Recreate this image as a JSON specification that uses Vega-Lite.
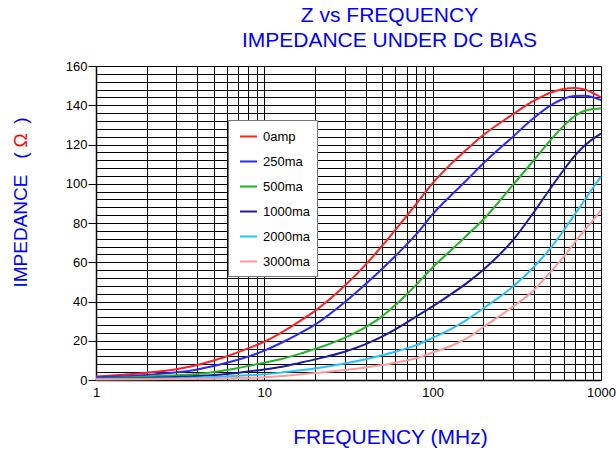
{
  "$schema": "https://vega.github.io/schema/vega-lite/v6.json",
  "width": 505,
  "height": 314,
  "autosize": {"type": "none"},
  "padding": {"left": 96, "top": 66, "right": 15, "bottom": 70},
  "background": "white",
  "config": {
    "font": "Liberation Sans",
    "view": {"stroke": null},
    "axis": {"labelFont": "Liberation Sans", "titleFont": "Liberation Sans", "labelColor": "#000", "titleFontWeight": "normal"}
  },
  "title": {
    "text": ["Z vs FREQUENCY", "IMPEDANCE UNDER DC BIAS"],
    "color": "#0000ff",
    "font": "Liberation Sans",
    "fontSize": 21,
    "fontWeight": "normal",
    "lineHeight": 25,
    "anchor": "middle",
    "baseline": "alphabetic",
    "dx": 41,
    "dy": 16,
    "offset": 8
  },
  "data": {
    "values": [
      {"f": 1, "z": 1.8, "s": "0amp"}, {"f": 2, "z": 3.7, "s": "0amp"}, {"f": 3, "z": 5.5, "s": "0amp"}, {"f": 4, "z": 7.6, "s": "0amp"}, {"f": 5, "z": 9.9, "s": "0amp"}, {"f": 6, "z": 12.1, "s": "0amp"}, {"f": 7, "z": 14.2, "s": "0amp"}, {"f": 8, "z": 16.1, "s": "0amp"}, {"f": 10, "z": 19.5, "s": "0amp"}, {"f": 13, "z": 24.8, "s": "0amp"}, {"f": 16, "z": 29.6, "s": "0amp"}, {"f": 20, "z": 35.2, "s": "0amp"}, {"f": 30, "z": 48, "s": "0amp"}, {"f": 40, "z": 58.8, "s": "0amp"}, {"f": 50, "z": 68.3, "s": "0amp"}, {"f": 60, "z": 76.5, "s": "0amp"}, {"f": 70, "z": 83.5, "s": "0amp"}, {"f": 80, "z": 89.8, "s": "0amp"}, {"f": 100, "z": 100.3, "s": "0amp"}, {"f": 130, "z": 110.5, "s": "0amp"}, {"f": 160, "z": 117.6, "s": "0amp"}, {"f": 200, "z": 124.8, "s": "0amp"}, {"f": 300, "z": 135.4, "s": "0amp"}, {"f": 400, "z": 142.3, "s": "0amp"}, {"f": 500, "z": 146.4, "s": "0amp"}, {"f": 600, "z": 148.3, "s": "0amp"}, {"f": 700, "z": 148.8, "s": "0amp"}, {"f": 800, "z": 148, "s": "0amp"}, {"f": 900, "z": 146.2, "s": "0amp"}, {"f": 1000, "z": 144, "s": "0amp"},
      {"f": 1, "z": 1.3, "s": "250ma"}, {"f": 2, "z": 2.5, "s": "250ma"}, {"f": 3, "z": 3.9, "s": "250ma"}, {"f": 4, "z": 5.4, "s": "250ma"}, {"f": 5, "z": 7.1, "s": "250ma"}, {"f": 6, "z": 8.8, "s": "250ma"}, {"f": 7, "z": 10.4, "s": "250ma"}, {"f": 8, "z": 11.9, "s": "250ma"}, {"f": 10, "z": 15, "s": "250ma"}, {"f": 13, "z": 19.5, "s": "250ma"}, {"f": 16, "z": 23.5, "s": "250ma"}, {"f": 20, "z": 28.2, "s": "250ma"}, {"f": 30, "z": 39.6, "s": "250ma"}, {"f": 40, "z": 48.9, "s": "250ma"}, {"f": 50, "z": 56.6, "s": "250ma"}, {"f": 60, "z": 63.2, "s": "250ma"}, {"f": 70, "z": 69, "s": "250ma"}, {"f": 80, "z": 74.3, "s": "250ma"}, {"f": 100, "z": 84.5, "s": "250ma"}, {"f": 130, "z": 94.5, "s": "250ma"}, {"f": 160, "z": 102, "s": "250ma"}, {"f": 200, "z": 110.4, "s": "250ma"}, {"f": 300, "z": 124, "s": "250ma"}, {"f": 400, "z": 133.6, "s": "250ma"}, {"f": 500, "z": 139.8, "s": "250ma"}, {"f": 600, "z": 143.3, "s": "250ma"}, {"f": 700, "z": 144.7, "s": "250ma"}, {"f": 800, "z": 144.8, "s": "250ma"}, {"f": 900, "z": 144, "s": "250ma"}, {"f": 1000, "z": 142.7, "s": "250ma"},
      {"f": 1, "z": 0.8, "s": "500ma"}, {"f": 2, "z": 1.7, "s": "500ma"}, {"f": 3, "z": 2.4, "s": "500ma"}, {"f": 4, "z": 3.1, "s": "500ma"}, {"f": 5, "z": 4.1, "s": "500ma"}, {"f": 6, "z": 5.1, "s": "500ma"}, {"f": 7, "z": 6.1, "s": "500ma"}, {"f": 8, "z": 7.1, "s": "500ma"}, {"f": 10, "z": 8.8, "s": "500ma"}, {"f": 13, "z": 11, "s": "500ma"}, {"f": 16, "z": 13.2, "s": "500ma"}, {"f": 20, "z": 15.8, "s": "500ma"}, {"f": 30, "z": 21.5, "s": "500ma"}, {"f": 40, "z": 26.9, "s": "500ma"}, {"f": 50, "z": 32.4, "s": "500ma"}, {"f": 60, "z": 38.2, "s": "500ma"}, {"f": 70, "z": 43.6, "s": "500ma"}, {"f": 80, "z": 48.6, "s": "500ma"}, {"f": 100, "z": 57.3, "s": "500ma"}, {"f": 130, "z": 66.5, "s": "500ma"}, {"f": 160, "z": 73.8, "s": "500ma"}, {"f": 200, "z": 81.8, "s": "500ma"}, {"f": 300, "z": 99.4, "s": "500ma"}, {"f": 400, "z": 112.1, "s": "500ma"}, {"f": 500, "z": 122.1, "s": "500ma"}, {"f": 600, "z": 129.5, "s": "500ma"}, {"f": 700, "z": 134.5, "s": "500ma"}, {"f": 800, "z": 137.2, "s": "500ma"}, {"f": 900, "z": 138.1, "s": "500ma"}, {"f": 1000, "z": 138.3, "s": "500ma"},
      {"f": 1, "z": 0.7, "s": "1000ma"}, {"f": 2, "z": 1.0, "s": "1000ma"}, {"f": 3, "z": 1.5, "s": "1000ma"}, {"f": 4, "z": 2.0, "s": "1000ma"}, {"f": 5, "z": 2.5, "s": "1000ma"}, {"f": 6, "z": 3.1, "s": "1000ma"}, {"f": 7, "z": 3.7, "s": "1000ma"}, {"f": 8, "z": 4.3, "s": "1000ma"}, {"f": 10, "z": 5.4, "s": "1000ma"}, {"f": 13, "z": 6.9, "s": "1000ma"}, {"f": 16, "z": 8.6, "s": "1000ma"}, {"f": 20, "z": 10.5, "s": "1000ma"}, {"f": 30, "z": 14.4, "s": "1000ma"}, {"f": 40, "z": 18.3, "s": "1000ma"}, {"f": 50, "z": 22.1, "s": "1000ma"}, {"f": 60, "z": 25.8, "s": "1000ma"}, {"f": 70, "z": 29.2, "s": "1000ma"}, {"f": 80, "z": 32.4, "s": "1000ma"}, {"f": 100, "z": 37.5, "s": "1000ma"}, {"f": 130, "z": 44, "s": "1000ma"}, {"f": 160, "z": 49.5, "s": "1000ma"}, {"f": 200, "z": 56.2, "s": "1000ma"}, {"f": 300, "z": 71.3, "s": "1000ma"}, {"f": 400, "z": 85.6, "s": "1000ma"}, {"f": 500, "z": 97.6, "s": "1000ma"}, {"f": 600, "z": 107, "s": "1000ma"}, {"f": 700, "z": 114.3, "s": "1000ma"}, {"f": 800, "z": 119.5, "s": "1000ma"}, {"f": 900, "z": 123, "s": "1000ma"}, {"f": 1000, "z": 125.5, "s": "1000ma"},
      {"f": 1, "z": 0.5, "s": "2000ma"}, {"f": 2, "z": 0.7, "s": "2000ma"}, {"f": 3, "z": 0.9, "s": "2000ma"}, {"f": 5, "z": 1.5, "s": "2000ma"}, {"f": 7, "z": 2.2, "s": "2000ma"}, {"f": 10, "z": 2.9, "s": "2000ma"}, {"f": 13, "z": 3.9, "s": "2000ma"}, {"f": 16, "z": 4.8, "s": "2000ma"}, {"f": 20, "z": 5.9, "s": "2000ma"}, {"f": 30, "z": 8.4, "s": "2000ma"}, {"f": 40, "z": 10.6, "s": "2000ma"}, {"f": 50, "z": 12.6, "s": "2000ma"}, {"f": 60, "z": 14.4, "s": "2000ma"}, {"f": 70, "z": 16.1, "s": "2000ma"}, {"f": 80, "z": 17.8, "s": "2000ma"}, {"f": 100, "z": 21.5, "s": "2000ma"}, {"f": 130, "z": 26.2, "s": "2000ma"}, {"f": 160, "z": 30.8, "s": "2000ma"}, {"f": 200, "z": 36.5, "s": "2000ma"}, {"f": 300, "z": 47.6, "s": "2000ma"}, {"f": 400, "z": 57.7, "s": "2000ma"}, {"f": 500, "z": 67.1, "s": "2000ma"}, {"f": 600, "z": 76.2, "s": "2000ma"}, {"f": 700, "z": 84.6, "s": "2000ma"}, {"f": 800, "z": 91.7, "s": "2000ma"}, {"f": 900, "z": 98.2, "s": "2000ma"}, {"f": 1000, "z": 103.6, "s": "2000ma"},
      {"f": 1, "z": 0.3, "s": "3000ma"}, {"f": 3, "z": 0.5, "s": "3000ma"}, {"f": 5, "z": 0.8, "s": "3000ma"}, {"f": 10, "z": 1.4, "s": "3000ma"}, {"f": 13, "z": 2.1, "s": "3000ma"}, {"f": 16, "z": 2.8, "s": "3000ma"}, {"f": 20, "z": 3.6, "s": "3000ma"}, {"f": 30, "z": 5.1, "s": "3000ma"}, {"f": 40, "z": 6.4, "s": "3000ma"}, {"f": 50, "z": 7.6, "s": "3000ma"}, {"f": 60, "z": 8.8, "s": "3000ma"}, {"f": 70, "z": 9.9, "s": "3000ma"}, {"f": 80, "z": 11.1, "s": "3000ma"}, {"f": 100, "z": 14, "s": "3000ma"}, {"f": 130, "z": 17.6, "s": "3000ma"}, {"f": 160, "z": 21.3, "s": "3000ma"}, {"f": 200, "z": 27, "s": "3000ma"}, {"f": 300, "z": 37.4, "s": "3000ma"}, {"f": 400, "z": 45.9, "s": "3000ma"}, {"f": 500, "z": 55, "s": "3000ma"}, {"f": 600, "z": 62.8, "s": "3000ma"}, {"f": 700, "z": 70.3, "s": "3000ma"}, {"f": 800, "z": 76.4, "s": "3000ma"}, {"f": 900, "z": 81.6, "s": "3000ma"}, {"f": 1000, "z": 86.6, "s": "3000ma"}
    ]
  },
  "encoding": {
    "x": {
      "field": "f",
      "type": "quantitative",
      "scale": {"type": "log", "domain": [1, 1000], "nice": false},
      "axis": {
        "values": [1, 2, 3, 4, 5, 6, 7, 8, 9, 10, 20, 30, 40, 50, 60, 70, 80, 90, 100, 200, 300, 400, 500, 600, 700, 800, 900, 1000],
        "labelExpr": "datum.value == 1 || datum.value == 10 || datum.value == 100 || datum.value == 1000 ? datum.value : ''",
        "labelFontSize": 13,
        "labelPadding": 6,
        "labelFlush": false,
        "labelOverlap": false,
        "ticks": false,
        "grid": true,
        "gridColor": "#000",
        "gridWidth": 1,
        "gridOpacity": 1,
        "domainColor": "#000",
        "domainWidth": 1.5,
        "title": "FREQUENCY (MHz)",
        "titleColor": "#0000ff",
        "titleFontSize": 21,
        "titleX": 294,
        "titleY": 63,
        "titleBaseline": "alphabetic",
        "titleAlign": "center"
      }
    }
  },
  "layer": [
    {
      "mark": {"type": "line", "strokeWidth": 2, "interpolate": "monotone"},
      "encoding": {
        "y": {
          "field": "z",
          "type": "quantitative",
          "scale": {"domain": [0, 160], "nice": false},
          "axis": {
            "values": [0, 4, 8, 12, 16, 20, 24, 28, 32, 36, 40, 44, 48, 52, 56, 60, 64, 68, 72, 76, 80, 84, 88, 92, 96, 100, 104, 108, 112, 116, 120, 124, 128, 132, 136, 140, 144, 148, 152, 156, 160],
            "labelExpr": "datum.value % 20 === 0 ? datum.value : ''",
            "labelFontSize": 13,
            "labelPadding": 1,
            "labelOverlap": false,
            "tickSize": 8,
            "tickColor": "#000",
            "tickOpacity": {"condition": {"test": "datum.value % 20 === 0", "value": 1}, "value": 0},
            "grid": true,
            "gridColor": "#000",
            "gridWidth": 1,
            "gridOpacity": 1,
            "domainColor": "#000",
            "domainWidth": 1.5,
            "title": "IMPEDANCE",
            "titleColor": "#0000ff",
            "titleFontSize": 19,
            "titleX": -76,
            "titleY": 221,
            "titleAngle": -90,
            "titleAlign": "left",
            "titleBaseline": "middle"
          }
        },
        "color": {
          "field": "s",
          "type": "nominal",
          "scale": {
            "domain": ["0amp", "250ma", "500ma", "1000ma", "2000ma", "3000ma"],
            "range": ["#ff2020", "#2a2aff", "#22b522", "#1c1ca0", "#22c4ff", "#ff9a9a"]
          },
          "legend": {
            "title": null,
            "orient": "none",
            "legendX": 132,
            "legendY": 54,
            "fillColor": "white",
            "strokeColor": "#777",
            "padding": 7,
            "symbolType": "stroke",
            "symbolStrokeWidth": 2,
            "symbolSize": 289,
            "symbolOffset": 4,
            "rowPadding": 8,
            "labelOffset": 5,
            "labelFontSize": 13,
            "labelFont": "Liberation Sans",
            "labelColor": "#000"
          }
        }
      }
    },
    {
      "mark": {"type": "point", "opacity": 0},
      "encoding": {
        "y": {
          "field": "z",
          "type": "quantitative",
          "axis": {
            "orient": "left",
            "domain": false,
            "labels": false,
            "ticks": false,
            "grid": false,
            "title": "(",
            "titleColor": "#0000ff",
            "titleFontSize": 19,
            "titleX": -76,
            "titleY": 89,
            "titleAngle": -90,
            "titleAlign": "center",
            "titleBaseline": "middle"
          }
        }
      }
    },
    {
      "mark": {"type": "point", "opacity": 0},
      "encoding": {
        "y": {
          "field": "z",
          "type": "quantitative",
          "axis": {
            "orient": "left",
            "domain": false,
            "labels": false,
            "ticks": false,
            "grid": false,
            "title": "Ω",
            "titleColor": "#ff0000",
            "titleFontSize": 19,
            "titleX": -76,
            "titleY": 74,
            "titleAngle": -90,
            "titleAlign": "center",
            "titleBaseline": "middle"
          }
        }
      }
    },
    {
      "mark": {"type": "point", "opacity": 0},
      "encoding": {
        "y": {
          "field": "z",
          "type": "quantitative",
          "axis": {
            "orient": "left",
            "domain": false,
            "labels": false,
            "ticks": false,
            "grid": false,
            "title": ")",
            "titleColor": "#0000ff",
            "titleFontSize": 19,
            "titleX": -76,
            "titleY": 54,
            "titleAngle": -90,
            "titleAlign": "center",
            "titleBaseline": "middle"
          }
        }
      }
    }
  ],
  "resolve": {"axis": {"y": "independent"}}
}
